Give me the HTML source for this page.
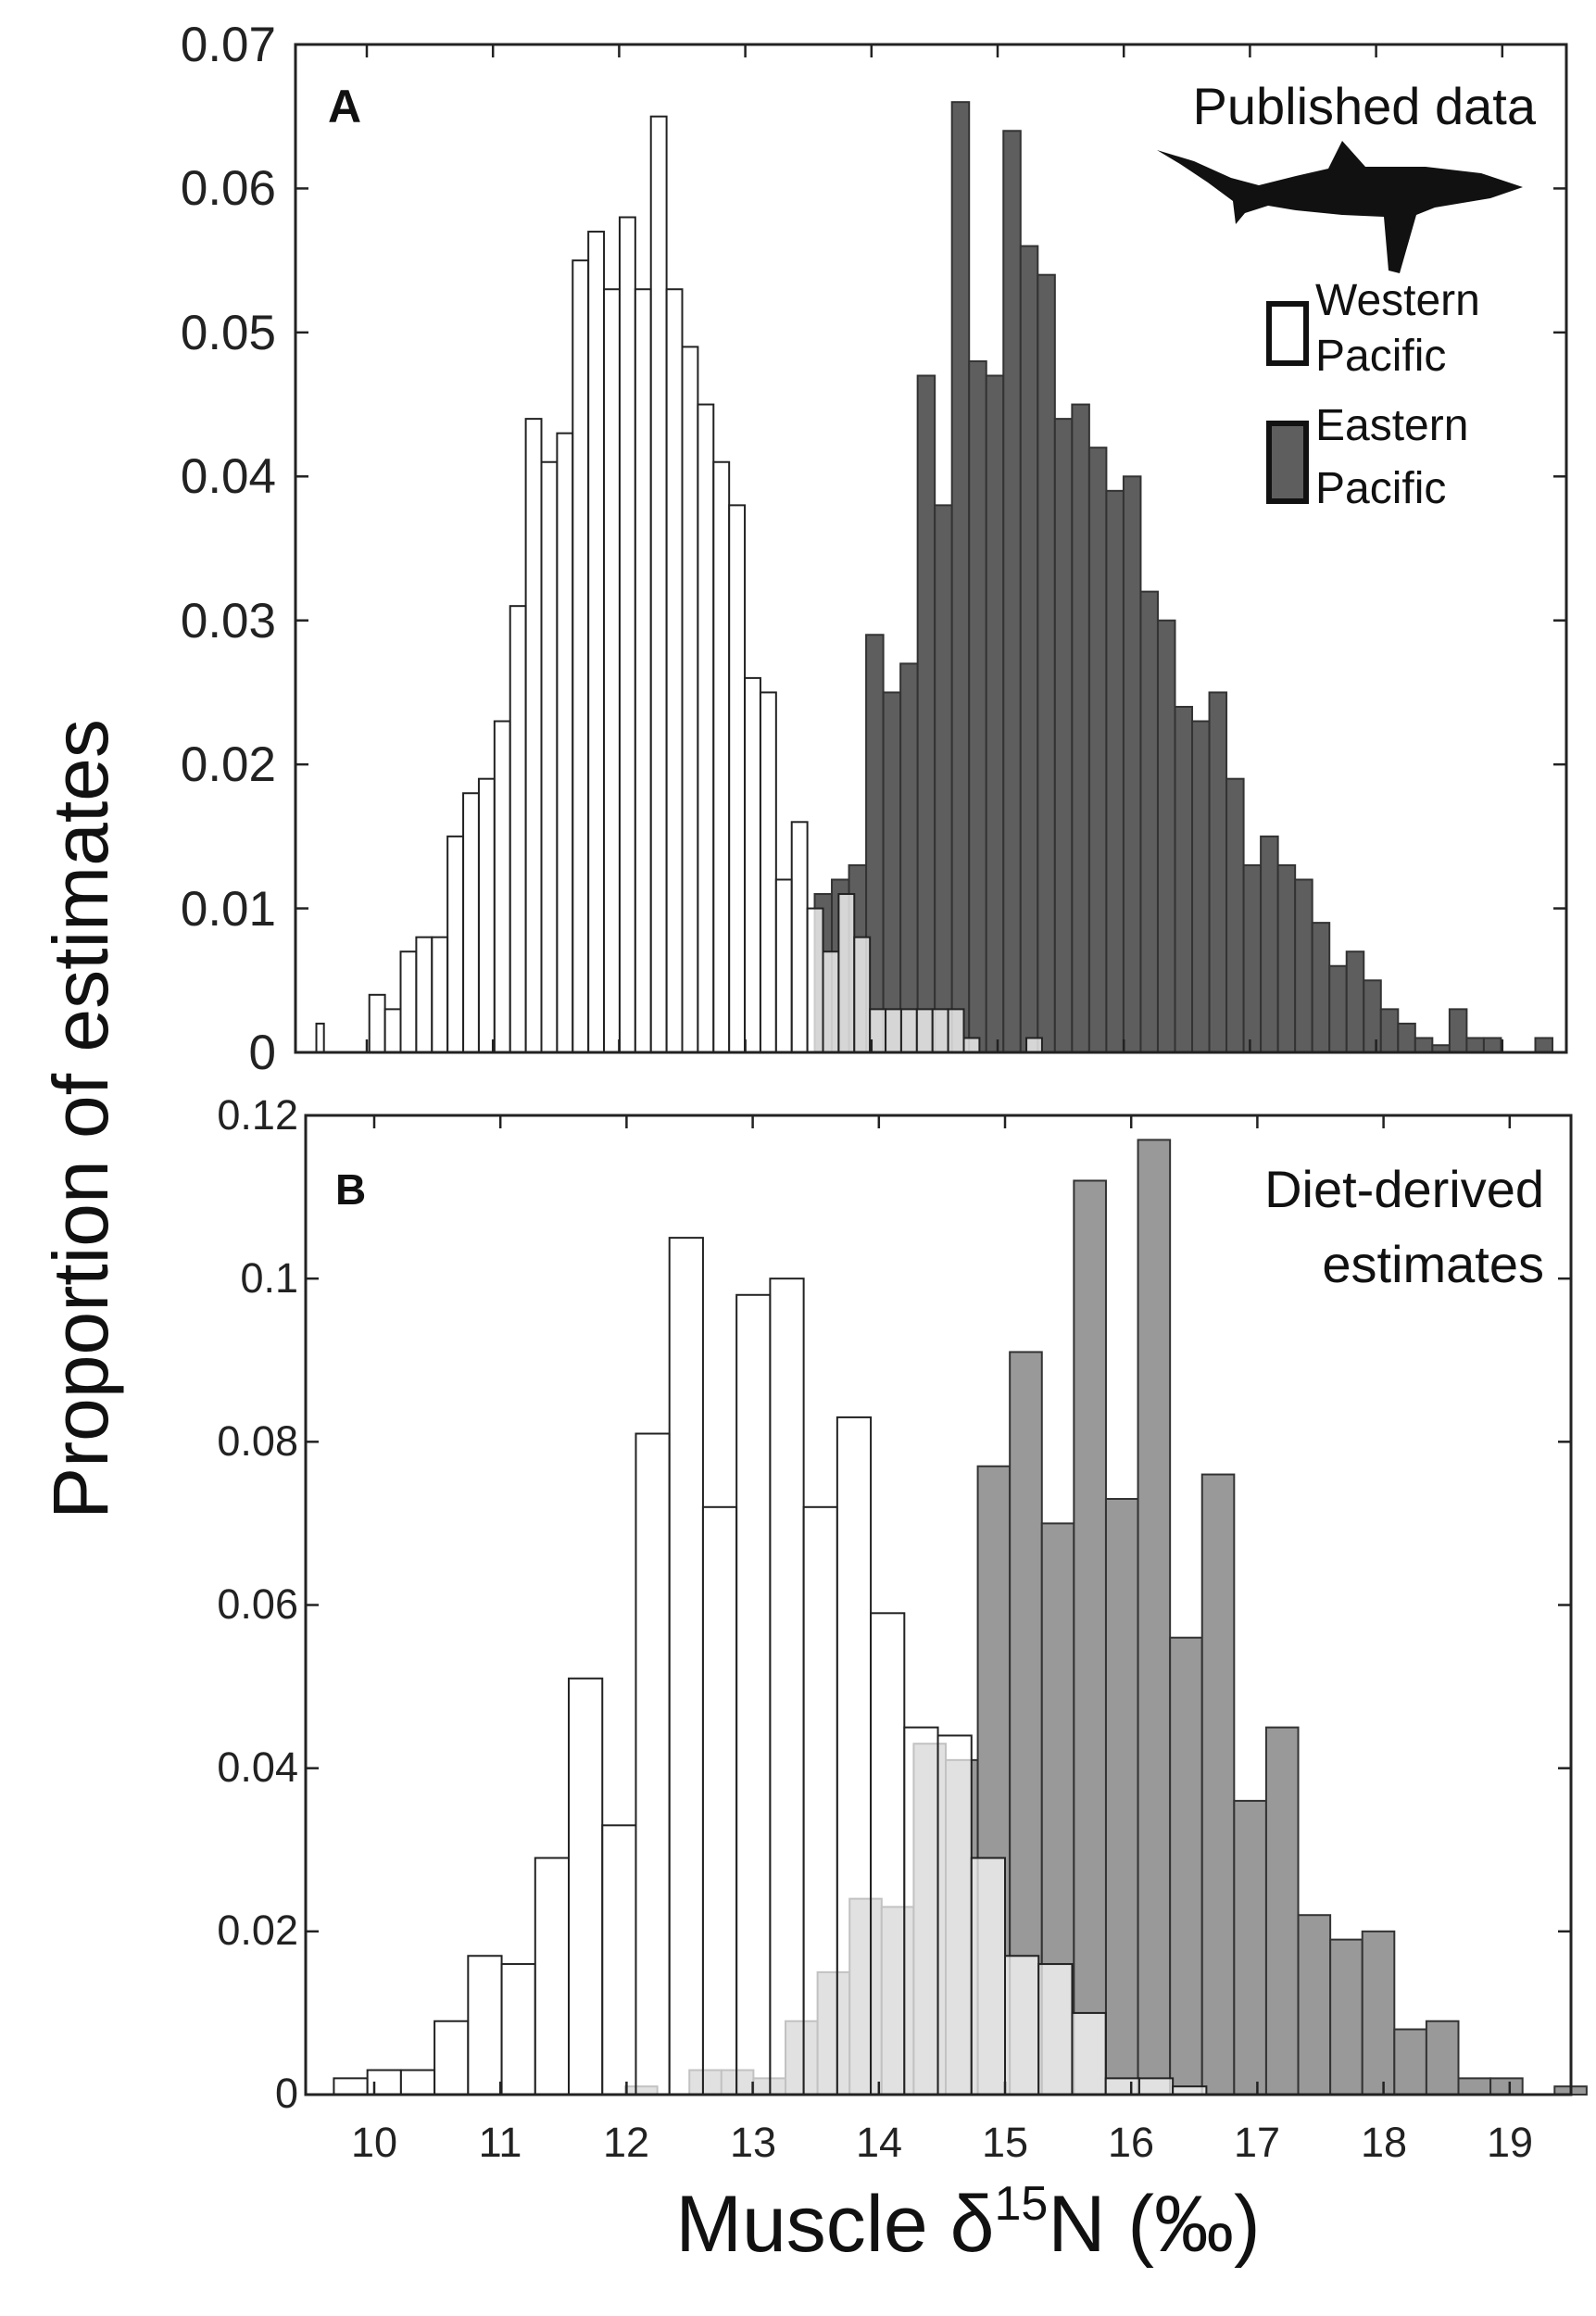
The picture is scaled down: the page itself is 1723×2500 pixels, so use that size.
<!DOCTYPE html>
<html><head><meta charset="utf-8"><style>
html,body{margin:0;padding:0;background:#fff;}
svg{display:block;font-family:"Liberation Sans",Arial,sans-serif;}
</style></head><body>
<svg id="s" width="1723" height="2500" viewBox="0 0 1723 2500" xmlns="http://www.w3.org/2000/svg">
<rect width="1723" height="2500" fill="#fff"/>
<g id="bars"></g>
<rect x="319" y="48" width="1372" height="1088" fill="none" stroke="#222" stroke-width="3"/>
<rect x="330" y="1204" width="1366" height="1057" fill="none" stroke="#222" stroke-width="3"/>
<g id="ticks" stroke="#222" stroke-width="2.5"></g>
<g font-size="53" fill="#222" text-anchor="end">
<text x="298" y="66">0.07</text>
<text x="298" y="221">0.06</text>
<text x="298" y="377">0.05</text>
<text x="298" y="532">0.04</text>
<text x="298" y="688">0.03</text>
<text x="298" y="843">0.02</text>
<text x="298" y="999">0.01</text>
<text x="298" y="1154">0</text>
</g>
<g font-size="45" fill="#222" text-anchor="end">
<text x="322" y="1219">0.12</text>
<text x="322" y="1395">0.1</text>
<text x="322" y="1571">0.08</text>
<text x="322" y="1747">0.06</text>
<text x="322" y="1923">0.04</text>
<text x="322" y="2099">0.02</text>
<text x="322" y="2275">0</text>
</g>
<g font-size="45" fill="#222" text-anchor="middle">
<text x="404" y="2328">10</text><text x="540" y="2328">11</text><text x="676" y="2328">12</text>
<text x="813" y="2328">13</text><text x="949" y="2328">14</text><text x="1085" y="2328">15</text>
<text x="1221" y="2328">16</text><text x="1357" y="2328">17</text><text x="1494" y="2328">18</text>
<text x="1630" y="2328">19</text>
</g>
<text transform="translate(116,1208) rotate(-90)" font-size="84" text-anchor="middle" fill="#111">Proportion of estimates</text>
<text x="1045" y="2430" font-size="86" text-anchor="middle" fill="#111">Muscle δ<tspan font-size="52" dy="-34">15</tspan><tspan dy="34">N (‰)</tspan></text>
<text x="354" y="132" font-size="50" font-weight="bold" fill="#111">A</text>
<text x="362" y="1300" font-size="46" font-weight="bold" fill="#111">B</text>
<text x="1658" y="134" font-size="56" text-anchor="end" fill="#111">Published data</text>
<path transform="translate(1249,152)" fill="#111" d="M0,10 L40,22 L80,40 L110,48 L150,38 L185,30 L200,0 L225,28 L290,28 L350,35 L395,50 L360,62 L300,72 L280,80 L262,143 L250,140 L245,82 L200,80 L150,75 L120,70 L95,78 L85,90 L82,65 L55,45 L25,25 Z"/>
<rect x="1370" y="328" width="40" height="64" fill="#fff" stroke="#111" stroke-width="6"/>
<rect x="1370" y="457" width="40" height="84" fill="#5e5e5e" stroke="#111" stroke-width="6"/>
<g font-size="48" fill="#111">
<text x="1420" y="340">Western</text><text x="1420" y="400">Pacific</text>
<text x="1420" y="475">Eastern</text><text x="1420" y="543">Pacific</text>
</g>
<g font-size="56" fill="#111" text-anchor="end">
<text x="1667" y="1303">Diet-derived</text><text x="1667" y="1384">estimates</text>
</g>
</svg>
<script>
var NS="http://www.w3.org/2000/svg",g=document.getElementById('bars'),tk=document.getElementById('ticks');
function R(x,y,w,h,f,s,o){var r=document.createElementNS(NS,'rect');r.setAttribute('x',x);r.setAttribute('y',y);r.setAttribute('width',w);r.setAttribute('height',h);r.setAttribute('fill',f);r.setAttribute('stroke',s);r.setAttribute('stroke-width',2);if(o!==undefined)r.setAttribute('fill-opacity',o);g.appendChild(r);}
function L(x1,y1,x2,y2){var l=document.createElementNS(NS,'line');l.setAttribute('x1',x1);l.setAttribute('y1',y1);l.setAttribute('x2',x2);l.setAttribute('y2',y2);tk.appendChild(l);}
function panel(xv,y0,ymax,ytop,start,w,vals,fill,op){var sc=(y0-ytop)/ymax;for(var i=0;i<vals.length;i++){if(vals[i]<=0)continue;var x1=xv(start+i*w),x2=xv(start+(i+1)*w),h=vals[i]*sc;R(x1,y0-h,x2-x1,h,fill,fill=="#fff"?"#222":"#333",op);}}
var xA=function(v){return 396+(v-10)*136.2},xB=function(v){return 404+(v-10)*136.2};
var dA=[0.011,0.012,0.013,0.029,0.025,0.027,0.047,0.038,0.066,0.048,0.047,0.064,0.056,0.054,0.044,0.045,0.042,0.039,0.040,0.032,0.030,0.024,0.023,0.025,0.019,0.013,0.015,0.013,0.012,0.009,0.006,0.007,0.005,0.003,0.002,0.001,0.0005,0.003,0.001,0.001,0,0,0.001];
panel(xA,1136,0.07,48,13.55,0.136,dA,"#5e5e5e");
var wA=[0.004,0.003,0.007,0.008,0.008,0.015,0.018,0.019,0.023,0.031,0.044,0.041,0.043,0.055,0.057,0.053,0.058,0.053,0.065,0.053,0.049,0.045,0.041,0.038,0.026,0.025,0.012,0.016,0.010,0.007,0.011,0.008,0.003,0.003,0.003,0.003,0.003,0.003,0.001,0,0,0,0.001];
panel(xA,1136,0.07,48,10.02,0.124,wA,"#fff",0.75);
panel(xA,1136,0.07,48,9.54,0.06,[0,0.002],"#fff",0.9);
var gB=[0.001,0,0.003,0.003,0.002,0.009,0.015,0.024,0.023,0.043,0.041,0.077,0.091,0.070,0.112,0.073,0.117,0.056,0.076,0.036,0.045,0.022,0.019,0.020,0.008,0.009,0.002,0.002,0,0.001];
panel(xB,2261,0.12,1204,11.99,0.254,gB,"#999");
var wB=[0.002,0.003,0.003,0.009,0.017,0.016,0.029,0.051,0.033,0.081,0.105,0.072,0.098,0.100,0.072,0.083,0.059,0.045,0.044,0.029,0.017,0.016,0.010,0.002,0.002,0.001];
panel(xB,2261,0.12,1204,9.68,0.266,wB,"#fff",0.7);
for(var v=10;v<=19;v++){var a=xA(v);L(a,48,a,62);L(a,1136,a,1122);var b=xB(v);L(b,1204,b,1218);L(b,2261,b,2247);}
for(var i=0;i<=7;i++){var y=1136-i*1088/7;L(319,y,333,y);L(1691,y,1677,y);}
for(var i=0;i<=6;i++){var y=2261-i*1057/6;L(330,y,344,y);L(1696,y,1682,y);}
</script>
</body></html>
